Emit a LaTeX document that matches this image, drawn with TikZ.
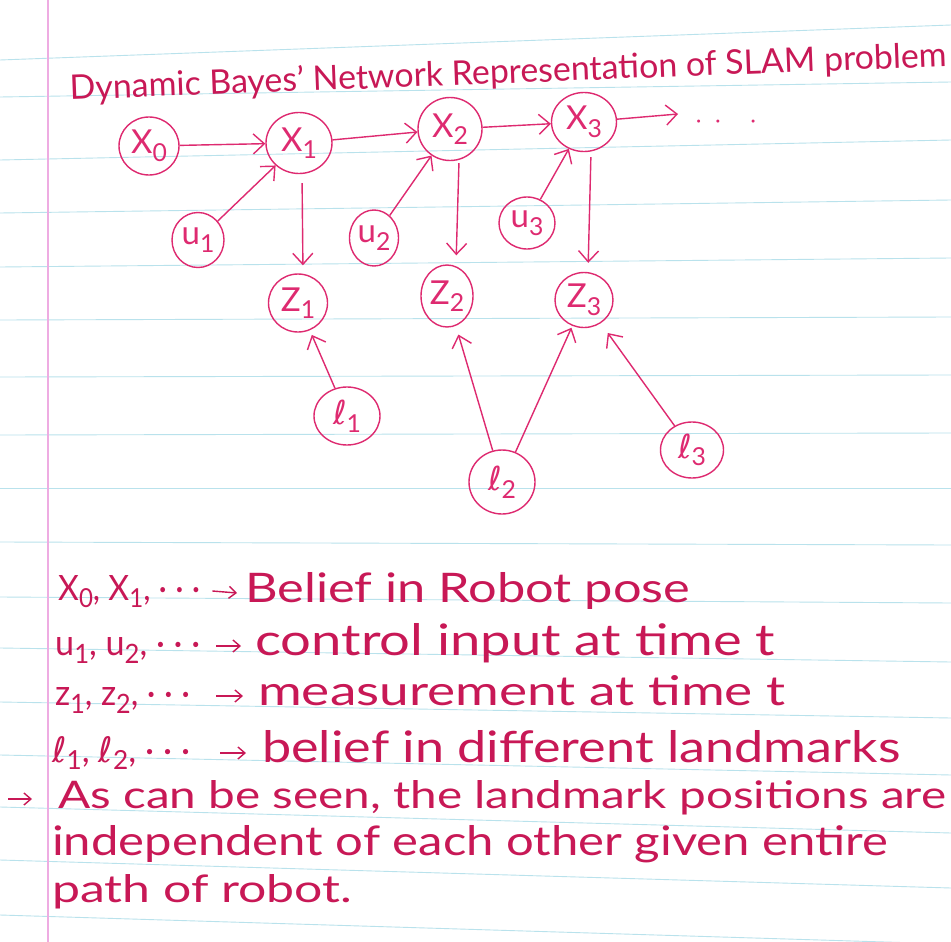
\documentclass[tikz,border=0pt]{standalone}
\usepackage{fontspec}
\setmainfont{Lato}
\newfontfamily\ellfont{DejaVu Sans}
\usetikzlibrary{arrows.meta,shapes.geometric}

\definecolor{ink}{RGB}{222,42,112}
\definecolor{textink}{RGB}{200,24,86}
\definecolor{rulecol}{RGB}{185,226,236}
\definecolor{margincol}{RGB}{238,172,226}

% subscript, landmark symbol, text set to a given width (and height)
\newcommand\subs[1]{\raisebox{-0.45ex}{\scalebox{0.75}{#1}}}
\newcommand\lsym{{\ellfont ℓ}}
\newcommand\fitw[2]{\resizebox{#1}{!}{#2}}
\newcommand\fitwh[3]{\resizebox{#1}{#2}{#3}}

\begin{document}
\begin{tikzpicture}[x=1pt,y=-1pt,
  var/.style={draw=ink, line width=1.4pt, ellipse, inner sep=0pt, text=ink,
              font=\fontsize{33}{33}\selectfont},
  link/.style={draw=ink, line width=1.4pt,
               -{Straight Barb[length=11pt,width=20pt,line width=1.4pt]}},
  hand/.style={text=textink, inner sep=0pt, anchor=base west},
  legarrow/.style={draw=textink, line width=1.4pt,
               -{Straight Barb[length=7pt,width=12pt,line width=1.4pt]}},
  rule/.style={draw=rulecol, line width=0.9pt}]

% paper
\useasboundingbox (0,0) rectangle (951,942);
\fill[white] (0,0) rectangle (951,942);
\foreach \yl/\yr in {60/25, 97/82, 160/140, 213/200, 267/258, 320/317,
                     377/375, 435/433, 488/488, 542/545, 597/603, 648/662,
                     702/718, 755/775, 807/833, 860/888, 915/944}
  \draw[rule] (0,\yl) -- (951,\yr);
\draw[draw=margincol, line width=1.3pt] (48,0) -- (48,942);

% title
\node[hand, rotate=2.2] (title) at (70,100)
  {\fitw{877pt}{Dynamic Bayes' Network Representation of SLAM problem}};

% robot poses
\node[var, minimum width=60pt, minimum height=58pt] (X0) at (149,146) {X\subs{0}};
\node[var, minimum width=66pt, minimum height=61pt] (X1) at (299,143) {X\subs{1}};
\node[var, minimum width=64pt, minimum height=63pt] (X2) at (450,129) {X\subs{2}};
\node[var, minimum width=65pt, minimum height=59pt] (X3) at (584,122) {X\subs{3}};
\coordinate (more) at (678,114);
\node[text=ink, inner sep=0pt, font=\fontsize{20}{20}\selectfont] (dots) at (726,124)
  {·\hspace{14pt}·\hspace{30pt}·};

% controls
\node[var, minimum width=52pt, minimum height=55pt] (U1) at (198,240) {u\subs{1}};
\node[var, minimum width=49pt, minimum height=56pt] (U2) at (374,238) {u\subs{2}};
\node[var, minimum width=56pt, minimum height=52pt] (U3) at (527,223) {u\subs{3}};

% measurements
\node[var, minimum width=59pt, minimum height=58pt] (Z1) at (298,303) {Z\subs{1}};
\node[var, minimum width=52pt, minimum height=62pt] (Z2) at (447,296) {Z\subs{2}};
\node[var, minimum width=58pt, minimum height=55pt] (Z3) at (584,300) {Z\subs{3}};

% landmarks
\node[var, minimum width=66pt, minimum height=58pt] (L1) at (347,416) {\lsym\subs{1}};
\node[var, minimum width=66pt, minimum height=64pt] (L2) at (502,482) {\lsym\subs{2}};
\node[var, minimum width=63pt, minimum height=56pt] (L3) at (692,450) {\lsym\subs{3}};

% motion chain
\draw[link] (X0) -- (X1);
\draw[link] (X1) -- (X2);
\draw[link] (X2) -- (X3);
\draw[link] (X3) -- (more);

% control inputs
\draw[link] (U1) -- (X1);
\draw[link] (U2) -- (X2);
\draw[link] (U3) -- (X3);

% observations
\draw[link, shorten <=9pt, shorten >=8pt] ([xshift=3pt]X1.south) -- ([xshift=5pt]Z1.north);
\draw[link, shorten <=2pt, shorten >=9pt] ([xshift=9pt]X2.south) -- ([xshift=9pt]Z2.north);
\draw[link, shorten <=5pt, shorten >=9pt] ([xshift=7pt]X3.south) -- ([xshift=4pt]Z3.north);
\draw[link, shorten >=5pt] (L1) -- (Z1);
\draw[link, shorten >=9pt] (L2) -- (Z2);
\draw[link, shorten >=2pt] (L2) -- (Z3);
\draw[link, shorten >=12pt] (L3) -- (Z3);

% legend
\node[hand] (k1) at (58,600) {\fitwh{142pt}{25pt}{X\subs{0}, X\subs{1}, · · ·}};
\node[hand] (d1) at (245,602) {\fitwh{445pt}{30pt}{Belief in Robot pose}};
\node[hand] (k2) at (55,655) {\fitwh{145pt}{18pt}{u\subs{1}, u\subs{2}, · · ·}};
\node[hand] (d2) at (255,655) {\fitwh{520pt}{32pt}{control input at time t}};
\node[hand] (k3) at (55,705) {\fitwh{135pt}{18pt}{z\subs{1}, z\subs{2}, · · ·}};
\node[hand] (d3) at (258,705) {\fitwh{527pt}{30pt}{measurement at time t}};
\node[hand] (k4) at (52,762) {\fitwh{138pt}{26pt}{\lsym\subs{1}, \lsym\subs{2}, · · ·}};
\node[hand] (d4) at (262,762) {\fitwh{638pt}{32pt}{belief in different landmarks}};

\draw[legarrow] ([xshift=12pt,yshift=9pt]k1.base east) -- ([xshift=-8pt,yshift=9pt]d1.base west);
\draw[legarrow] ([xshift=16pt,yshift=9pt]k2.base east) -- ([xshift=-14pt,yshift=9pt]d2.base west);
\draw[legarrow] ([xshift=26pt,yshift=9pt]k3.base east) -- ([xshift=-15pt,yshift=9pt]d3.base west);
\draw[legarrow] ([xshift=30pt,yshift=9pt]k4.base east) -- ([xshift=-16pt,yshift=9pt]d4.base west);

% remark
\node[hand] (t5) at (58,808) {\fitwh{888pt}{28pt}{As can be seen, the landmark positions are}};
\node[hand] (t6) at (52,855) {\fitwh{836pt}{30pt}{independent of each other given entire}};
\node[hand] (t7) at (52,902) {\fitwh{300pt}{28pt}{path of robot.}};
\coordinate (note) at (8,799);
\draw[legarrow] (note) -- ([xshift=-26pt,yshift=9pt]t5.base west);

\end{tikzpicture}
\end{document}
